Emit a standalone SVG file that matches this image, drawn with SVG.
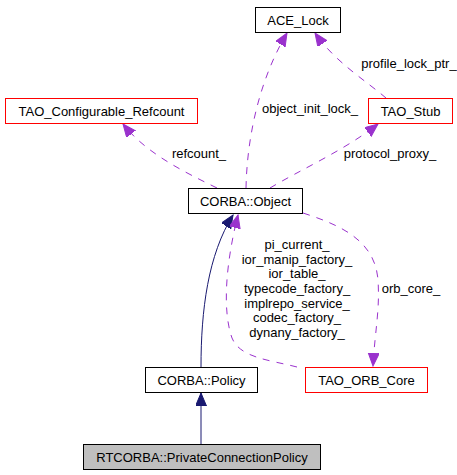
<svg xmlns="http://www.w3.org/2000/svg" width="457" height="475" viewBox="0 0 457 475">
<style>
.box{fill:#ffffff;stroke:#000000;stroke-width:1}
.red{fill:#ffffff;stroke:#ff0000;stroke-width:1}
.gray{fill:#bfbfbf;stroke:#000000;stroke-width:1}
text{font-family:"Liberation Sans",Arial,sans-serif;font-size:13px;fill:#000000;text-anchor:middle}
.inh{fill:none;stroke:#191970;stroke-width:1;marker-end:url(#navy)}
.use{fill:none;stroke:#9a32cd;stroke-width:1;stroke-dasharray:7,7;marker-end:url(#purple)}
</style>
<defs>
<marker id="navy" markerUnits="userSpaceOnUse" markerWidth="14" markerHeight="12" refX="13" refY="5.5" orient="auto">
<path d="M0,0 L13,5.5 L0,11 z" fill="#191970" stroke="#191970"/>
</marker>
<marker id="purple" markerUnits="userSpaceOnUse" markerWidth="14" markerHeight="12" refX="13" refY="5.5" orient="auto">
<path d="M0,0 L13,5.5 L0,11 z" fill="#9a32cd" stroke="#9a32cd"/>
</marker>
</defs>
<rect width="457" height="475" fill="#ffffff"/>
<g id="edges">
<path class="inh" d="M201,444 L201,393"/>
<path class="inh" d="M201,367 C201,310 208,255 233,215"/>
<path class="use" d="M297,367 C270,360 240,358 232,338 C222,310 226,262 238,215"/>
<path class="use" d="M303,213 C340,225 375,240 378,280 C380,310 375,330 373,366"/>
<path class="use" d="M217,188 C180,170 145,152 123,124"/>
<path class="use" d="M246,188 C247,140 258,82 287,33"/>
<path class="use" d="M270,188 C300,170 345,150 378,124"/>
<path class="use" d="M386,98 C365,80 335,62 315,33"/>
<text x="310" y="113">object_init_lock_</text>
<text x="409" y="68">profile_lock_ptr_</text>
<text x="199" y="158">refcount_</text>
<text x="390" y="158">protocol_proxy_</text>
<text x="411" y="293">orb_core_</text>
<text x="297" y="249">pi_current_</text>
<text x="297" y="264">ior_manip_factory_</text>
<text x="297" y="278">ior_table_</text>
<text x="297" y="293">typecode_factory_</text>
<text x="297" y="308">implrepo_service_</text>
<text x="297" y="322">codec_factory_</text>
<text x="297" y="337">dynany_factory_</text>
</g>
<g id="ACE_Lock"><rect class="box" x="255.5" y="7.5" width="85" height="25"/><text x="298" y="24.5">ACE_Lock</text></g>
<g id="TAO_Configurable_Refcount"><rect class="red" x="5.5" y="98.5" width="192" height="25"/><text x="101.5" y="115.5">TAO_Configurable_Refcount</text></g>
<g id="TAO_Stub"><rect class="red" x="368.5" y="98.5" width="84" height="25"/><text x="410.5" y="115.5">TAO_Stub</text></g>
<g id="CORBA_Object"><rect class="box" x="188.5" y="188.5" width="114" height="25"/><text x="245.5" y="205.5">CORBA::Object</text></g>
<g id="CORBA_Policy"><rect class="box" x="145.5" y="367.5" width="112" height="25"/><text x="201.5" y="384.5">CORBA::Policy</text></g>
<g id="TAO_ORB_Core"><rect class="red" x="305.5" y="367.5" width="122" height="25"/><text x="366.5" y="384.5">TAO_ORB_Core</text></g>
<g id="RTCORBA_PrivateConnectionPolicy"><rect class="gray" x="83.5" y="444.5" width="237" height="25"/><text x="202" y="461.5">RTCORBA::PrivateConnectionPolicy</text></g>
</svg>
